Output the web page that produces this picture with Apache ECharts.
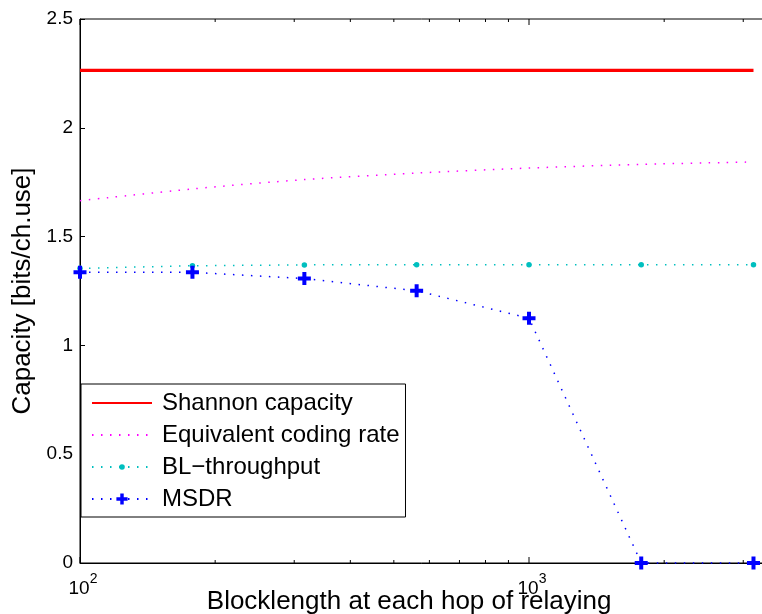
<!DOCTYPE html>
<html>
<head>
<meta charset="utf-8">
<script src="https://cdn.jsdelivr.net/npm/echarts@6/dist/echarts.min.js"></script>
<style>
html,body{margin:0;padding:0;background:#fff;}
#chart{width:762px;height:614px;}
</style>
</head>
<body>
<div id="chart"></div>
<script>
// ---- data ----
const blocklengths = [100, 178, 316, 562, 1000, 1778, 3162];
const shannonCapacity = [2.264, 2.264, 2.264, 2.264, 2.264, 2.264, 2.264];
const equivalentRate = [1.665, 1.719, 1.762, 1.792, 1.815, 1.832, 1.843];
const blThroughput = [1.354, 1.366, 1.370, 1.371, 1.371, 1.371, 1.371];
const msdr = [1.336, 1.336, 1.307, 1.251, 1.125, 0, 0];
const seriesNames = ['Shannon capacity', 'Equivalent coding rate', 'BL\u2212throughput', 'MSDR'];
const xMajorTicks = [100, 1000];
const xMinorTicks = [200, 300, 400, 500, 600, 700, 800, 900, 2000, 3000];
const yTicks = [0, 0.5, 1, 1.5, 2, 2.5];

const FONT = '"Liberation Sans", Arial, Helvetica, sans-serif';
const pairs = (ys) => blocklengths.map((x, i) => [x, ys[i]]);
const plusPath = 'path://M4.5,0 H8.5 V4.5 H13 V8.5 H8.5 V13 H4.5 V8.5 H0 V4.5 H4.5 Z';
const dotPath = 'path://M0,0 M22,22 M11,5.5 A5.5,5.5 0 1 1 11,16.5 A5.5,5.5 0 1 1 11,5.5 Z';

const tickData = xMajorTicks.map(v => [v, 0, 1]).concat(xMinorTicks.map(v => [v, 0, 0]));

const chart = echarts.init(document.getElementById('chart'), null, {renderer: 'canvas'});
chart.setOption({
  animation: false,
  backgroundColor: '#fff',
  textStyle: {fontFamily: FONT},
  grid: {
    left: 80, top: 19, width: 693.3, height: 544,
    containLabel: false, outerBoundsMode: 'none',
    show: true, borderColor: '#000', borderWidth: 1, backgroundColor: '#fff'
  },
  xAxis: {
    type: 'log', logBase: 10, min: 100, max: 3500,
    name: 'Blocklength at each hop of relaying',
    nameLocation: 'middle', nameGap: 26, nameMoveOverlap: false,
    nameTextStyle: {fontSize: 26, color: '#000', fontFamily: FONT, padding: [0, 35, 0, 0]},
    axisLine: {show: true, lineStyle: {color: '#000', width: 1}},
    axisTick: {show: false},
    splitLine: {show: false},
    minorTick: {show: false},
    axisLabel: {
      margin: 9, color: '#000', showMaxLabel: false,
      formatter: function (v) {
        const e = Math.log10(v);
        if (Math.abs(e - Math.round(e)) > 1e-6) return '';
        return '{b|10}{s|' + Math.round(e) + '}';
      },
      rich: {
        b: {fontSize: 19, fontFamily: FONT, color: '#000', verticalAlign: 'bottom', lineHeight: 26, padding: [0, 0, 0, 6]},
        s: {fontSize: 14, fontFamily: FONT, color: '#000', verticalAlign: 'top', lineHeight: 10}
      }
    }
  },
  yAxis: {
    type: 'value', min: yTicks[0], max: yTicks[yTicks.length - 1], interval: 0.5,
    name: 'Capacity [bits/ch.use]',
    nameLocation: 'middle', nameGap: 44, nameMoveOverlap: false,
    nameTextStyle: {fontSize: 26, color: '#000', fontFamily: FONT},
    axisLine: {show: true, lineStyle: {color: '#000', width: 1}},
    axisTick: {show: true, inside: true, length: 5, lineStyle: {color: '#000'}},
    splitLine: {show: false},
    axisLabel: {margin: 7, fontSize: 19, color: '#000', fontFamily: FONT}
  },
  legend: {
    orient: 'vertical',
    left: 81, top: 384,
    padding: [6, 6, 5, 10],
    itemWidth: 60, itemHeight: 14, itemGap: 6,
    backgroundColor: '#fff', borderColor: '#000', borderWidth: 1, borderRadius: 0,
    textStyle: {fontSize: 24, color: '#000', fontFamily: FONT, lineHeight: 26, padding: [0, 0, 0, 5]},
    data: [
      {name: seriesNames[0], itemStyle: {opacity: 0}},
      {name: seriesNames[1], itemStyle: {opacity: 0}},
      {name: seriesNames[2]},
      {name: seriesNames[3]}
    ]
  },
  series: [
    {
      name: seriesNames[0], type: 'line', data: pairs(shannonCapacity),
      symbol: 'none', clip: false,
      lineStyle: {color: '#FF0000', width: 3.4, type: 'solid'},
      itemStyle: {color: '#FF0000'}
    },
    {
      name: seriesNames[1], type: 'line', data: pairs(equivalentRate),
      symbol: 'none', smooth: 0.3, clip: false,
      lineStyle: {color: '#FF00FF', width: 1.5, type: [1.5, 7.5]},
      itemStyle: {color: '#FF00FF'}
    },
    {
      name: seriesNames[2], type: 'line', data: pairs(blThroughput),
      symbol: dotPath, symbolSize: 11, showAllSymbol: true, clip: false,
      lineStyle: {color: '#00BFBF', width: 1.5, type: [1.5, 7.5]},
      itemStyle: {color: '#00BFBF'}
    },
    {
      name: seriesNames[3], type: 'line', data: pairs(msdr),
      symbol: plusPath, symbolSize: 13, showAllSymbol: true, clip: false,
      lineStyle: {color: '#0000FF', width: 1.5, type: [1.5, 7.5]},
      itemStyle: {color: '#0000FF'}
    },
    {
      type: 'custom', silent: true, clip: false, z: 5,
      data: tickData,
      encode: {x: 0, y: 1},
      renderItem: function (params, api) {
        const cs = params.coordSys;
        const x = api.coord([api.value(0), 0])[0];
        const len = api.value(2) === 1 ? 6 : 3;
        const bottom = cs.y + cs.height;
        return {
          type: 'group',
          children: [
            {type: 'line', shape: {x1: x, y1: bottom, x2: x, y2: bottom - len}, style: {stroke: '#000', lineWidth: 1}},
            {type: 'line', shape: {x1: x, y1: cs.y, x2: x, y2: cs.y + len}, style: {stroke: '#000', lineWidth: 1}}
          ]
        };
      }
    }
  ]
});
</script>
</body>
</html>
